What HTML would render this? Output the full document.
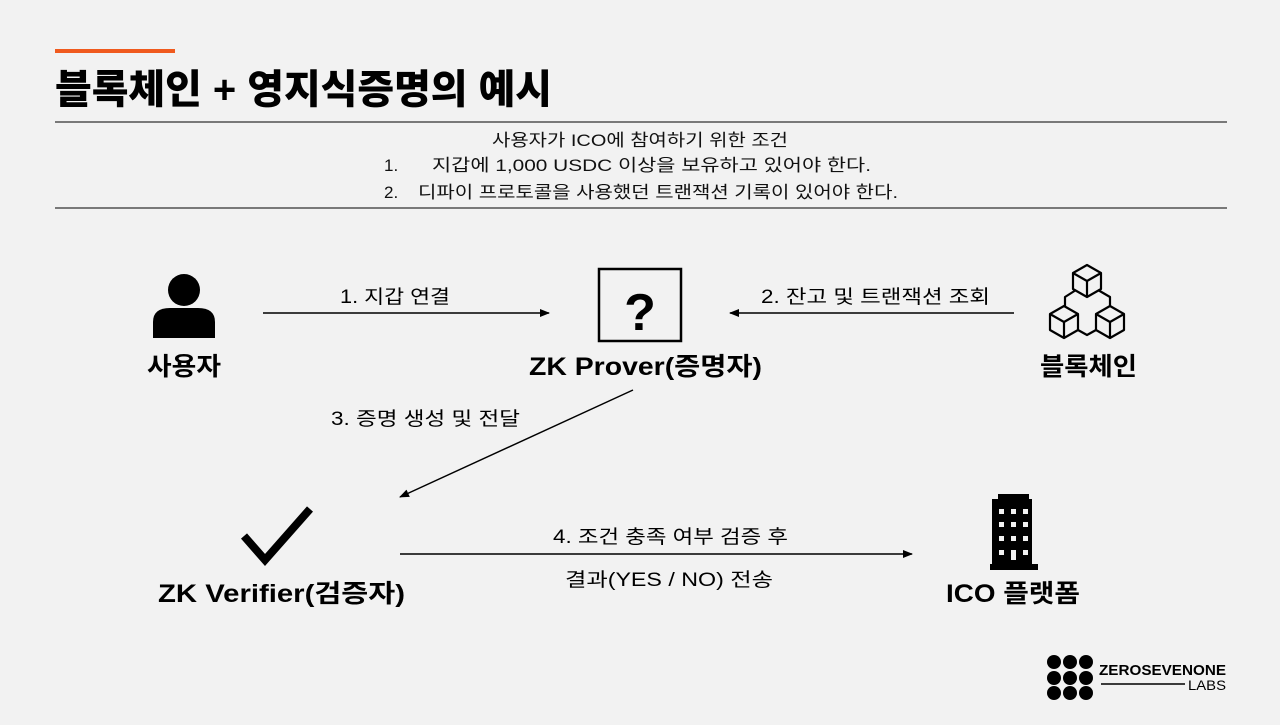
<!DOCTYPE html>
<html><head><meta charset="utf-8"><style>
html,body{margin:0;padding:0;background:#f2f2f2;}
body{width:1280px;height:720px;overflow:hidden;}
svg text{font-family:"Liberation Sans","Noto Sans CJK KR",sans-serif;}
</style></head><body>
<svg width="1280" height="720" viewBox="0 0 1280 720" xmlns="http://www.w3.org/2000/svg">
<defs><marker id="ar" markerWidth="10" markerHeight="8" refX="9" refY="4" orient="auto" markerUnits="userSpaceOnUse"><path d="M0,0 L10,4 L0,8 Z" fill="#000"/></marker></defs>
<rect x="55" y="49" width="120" height="4" fill="#f05a1e"/>
<text x="55" y="103" font-size="40" font-weight="900" fill="#000" textLength="497" lengthAdjust="spacingAndGlyphs">블록체인 + 영지식증명의 예시</text>
<line x1="55" y1="122" x2="1227" y2="122" stroke="#000" stroke-width="1"/>
<line x1="55" y1="208" x2="1227" y2="208" stroke="#000" stroke-width="1"/>
<g font-size="17" fill="#111">
<text x="492" y="146" textLength="296" lengthAdjust="spacingAndGlyphs">사용자가 ICO에 참여하기 위한 조건</text>
<text x="384" y="171">1.</text><text x="432" y="171" textLength="439" lengthAdjust="spacingAndGlyphs">지갑에 1,000 USDC 이상을 보유하고 있어야 한다.</text>
<text x="384" y="198">2.</text><text x="418" y="198" textLength="480" lengthAdjust="spacingAndGlyphs">디파이 프로토콜을 사용했던 트랜잭션 기록이 있어야 한다.</text>
</g>
<!-- person -->
<circle cx="184" cy="290" r="16" fill="#000"/>
<path d="M153,338 L153,322 Q153,308 170,308 L198,308 Q215,308 215,322 L215,338 Z" fill="#000"/>
<text x="147" y="375" font-size="25" font-weight="bold" textLength="74" lengthAdjust="spacingAndGlyphs">사용자</text>
<!-- prover -->
<rect x="599" y="269" width="82" height="72" fill="none" stroke="#000" stroke-width="2.5"/>
<text x="640" y="330" font-size="52" font-weight="bold" text-anchor="middle">?</text>
<text x="529" y="375" font-size="25" font-weight="bold" textLength="233" lengthAdjust="spacingAndGlyphs">ZK Prover(증명자)</text>
<!-- blocks -->
<g fill="none" stroke="#000" stroke-width="2.2" stroke-linejoin="round">
<path d="M1087,265 L1101,273 L1101,289 L1087,297 L1073,289 L1073,273 Z M1073,273 L1087,281 L1101,273 M1087,281 L1087,297"/>
<path d="M1064,306 L1078,314 L1078,330 L1064,338 L1050,330 L1050,314 Z M1050,314 L1064,322 L1078,314 M1064,322 L1064,338"/>
<path d="M1110,306 L1124,314 L1124,330 L1110,338 L1096,330 L1096,314 Z M1096,314 L1110,322 L1124,314 M1110,322 L1110,338"/>
<path d="M1076,290 L1065,297 L1065,306 M1098,290 L1110,297 L1110,306 M1078,330 L1087,335 L1096,330"/>
</g>
<text x="1040" y="375" font-size="25" font-weight="bold" textLength="97" lengthAdjust="spacingAndGlyphs">블록체인</text>
<!-- arrows -->
<line x1="263" y1="313" x2="549" y2="313" stroke="#000" stroke-width="1.5" marker-end="url(#ar)"/>
<text x="340" y="303" font-size="19" textLength="110" lengthAdjust="spacingAndGlyphs">1. 지갑 연결</text>
<line x1="1014" y1="313" x2="730" y2="313" stroke="#000" stroke-width="1.5" marker-end="url(#ar)"/>
<text x="761" y="303" font-size="19" textLength="229" lengthAdjust="spacingAndGlyphs">2. 잔고 및 트랜잭션 조회</text>
<line x1="633" y1="390" x2="400" y2="497" stroke="#000" stroke-width="1.5" marker-end="url(#ar)"/>
<text x="331" y="425" font-size="19" textLength="189" lengthAdjust="spacingAndGlyphs">3. 증명 생성 및 전달</text>
<line x1="400" y1="554" x2="912" y2="554" stroke="#000" stroke-width="1.5" marker-end="url(#ar)"/>
<text x="553" y="543" font-size="19" textLength="235" lengthAdjust="spacingAndGlyphs">4. 조건 충족 여부 검증 후</text>
<text x="565" y="586" font-size="19" textLength="208" lengthAdjust="spacingAndGlyphs">결과(YES / NO) 전송</text>
<!-- check -->
<path d="M244,536 L265,560 L310,509" fill="none" stroke="#000" stroke-width="8"/>
<text x="158" y="602" font-size="25" font-weight="bold" textLength="247" lengthAdjust="spacingAndGlyphs">ZK Verifier(검증자)</text>
<!-- building -->
<path d="M998,494 L1029,494 L1029,499 L1032,499 L1032,564 L1038,564 L1038,570 L990,570 L990,564 L992,564 L992,499 L998,499 Z" fill="#000"/>
<g fill="#f2f2f2">
<rect x="999" y="509" width="5" height="5"/><rect x="1011" y="509" width="5" height="5"/><rect x="1023" y="509" width="5" height="5"/>
<rect x="999" y="522" width="5" height="5"/><rect x="1011" y="522" width="5" height="5"/><rect x="1023" y="522" width="5" height="5"/>
<rect x="999" y="536" width="5" height="5"/><rect x="1011" y="536" width="5" height="5"/><rect x="1023" y="536" width="5" height="5"/>
<rect x="999" y="550" width="5" height="5"/><rect x="1011" y="550" width="5" height="10"/><rect x="1023" y="550" width="5" height="5"/>
</g>
<text x="946" y="602" font-size="25" font-weight="bold" textLength="134" lengthAdjust="spacingAndGlyphs">ICO 플랫폼</text>
<!-- logo -->
<g fill="#000">
<circle cx="1054" cy="662" r="7"/><circle cx="1070" cy="662" r="7"/><circle cx="1086" cy="662" r="7"/>
<circle cx="1054" cy="678" r="7"/><circle cx="1070" cy="678" r="7"/><circle cx="1086" cy="678" r="7"/>
<circle cx="1054" cy="693" r="7"/><circle cx="1070" cy="693" r="7"/><circle cx="1086" cy="693" r="7"/>
</g>
<g fill="#f2f2f2">
<path d="M1062,667 l3,3 -3,3 -3,-3 Z"/><path d="M1078,667 l3,3 -3,3 -3,-3 Z"/>
<path d="M1062,682 l3,3 -3,3 -3,-3 Z"/><path d="M1078,682 l3,3 -3,3 -3,-3 Z"/>
</g>
<text x="1099" y="675" font-size="15" font-weight="bold" textLength="127" lengthAdjust="spacingAndGlyphs">ZEROSEVENONE</text>
<line x1="1101" y1="684" x2="1185" y2="684" stroke="#000" stroke-width="1.5"/>
<text x="1188" y="690" font-size="14" textLength="38" lengthAdjust="spacingAndGlyphs">LABS</text>
</svg>
</body></html>
